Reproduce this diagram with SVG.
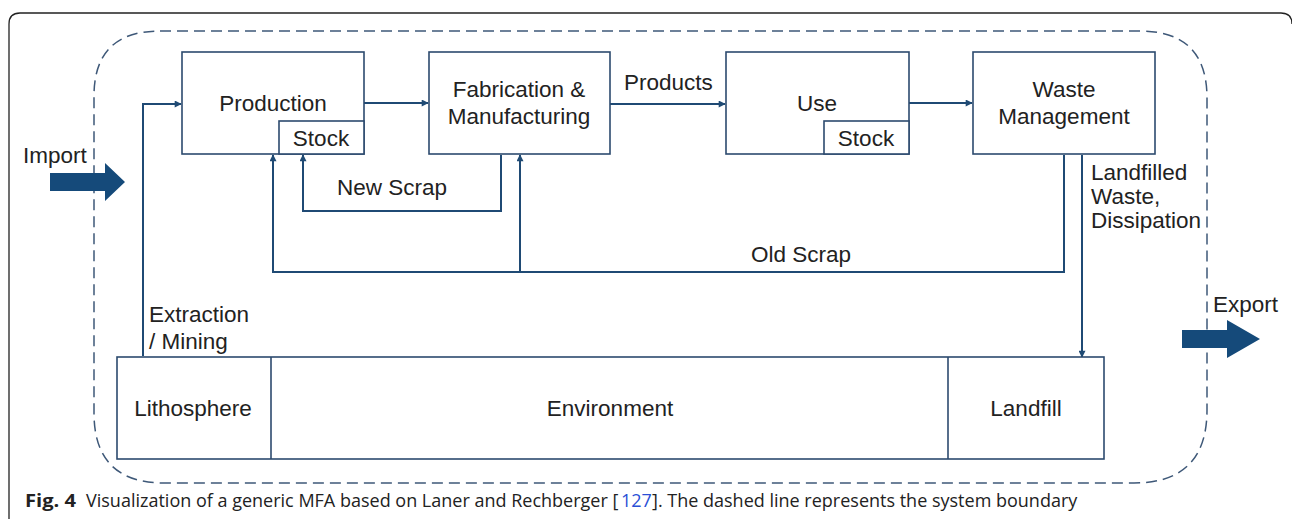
<svg xmlns="http://www.w3.org/2000/svg" width="1292" height="519" viewBox="0 0 1292 519">
<defs>
<style>
.box{fill:#fff;stroke:#2c4a6e;stroke-width:1.6}
.t{font-family:"Liberation Sans",Arial,sans-serif;font-size:22.5px;fill:#222}
.m{text-anchor:middle}
.c{fill:none;stroke:#1f4a74;stroke-width:2}
.big{fill:#154a7a}
.cap{font-family:"Open Sans","Noto Sans",sans-serif;font-size:18px;fill:#222}
</style>
<marker id="ah" viewBox="0 0 10 10" refX="9" refY="5" markerWidth="8" markerHeight="7" orient="auto" markerUnits="userSpaceOnUse">
<path d="M0,0 L10,5 L0,10 z" fill="#1f4a74"/>
</marker>
</defs>
<rect width="1292" height="519" fill="#fff"/>
<path d="M9,519 V24 Q9,13 20,13 H1281 Q1292,13 1292,24" fill="none" stroke="#222" stroke-width="1.3"/>
<path d="M160,31 H1140 Q1207,31 1207,98 V410 Q1207,483 1134,483 H164 Q94,483 94,413 V96 Q94,31 160,31 Z" fill="none" stroke="#3e5878" stroke-width="1.5" stroke-dasharray="11,6"/>

<g id="connectors">
<path class="c" d="M143,356 V104 H181" marker-end="url(#ah)"/>
<path class="c" d="M364,103 H428" marker-end="url(#ah)"/>
<path class="c" d="M610,104 H725" marker-end="url(#ah)"/>
<path class="c" d="M909,103 H972" marker-end="url(#ah)"/>
<path class="c" d="M501,155 V211 H303 V155" marker-end="url(#ah)"/>
<path class="c" d="M1064,155 V272 H273 V155" marker-end="url(#ah)"/>
<path class="c" d="M520,272 V155" marker-end="url(#ah)"/>
<path class="c" d="M1082,155 V357" marker-end="url(#ah)"/>
</g>

<g id="import">
<path class="big" d="M50,173 H105 V163 L125,182 L105,201 V191 H50 Z"/>
<text class="t" x="23" y="163">Import</text>
</g>
<g id="export">
<path class="big" d="M1182,330 H1227 V320 L1260,339 L1227,358 V348 H1182 Z"/>
<text class="t" x="1213" y="312">Export</text>
</g>

<g id="production">
<rect class="box" x="182" y="52" width="182" height="102"/>
<rect class="box" x="279" y="121" width="85" height="33"/>
<text class="t m" x="273" y="111">Production</text>
<text class="t m" x="321" y="146">Stock</text>
</g>
<g id="fabrication">
<rect class="box" x="429" y="52" width="181" height="102"/>
<text class="t m" x="519" y="97">Fabrication &amp;</text>
<text class="t m" x="519" y="124">Manufacturing</text>
</g>
<g id="use">
<rect class="box" x="726" y="52" width="183" height="102"/>
<rect class="box" x="824" y="121" width="85" height="33"/>
<text class="t m" x="817" y="111">Use</text>
<text class="t m" x="866" y="146">Stock</text>
</g>
<g id="waste">
<rect class="box" x="973" y="52" width="182" height="102"/>
<text class="t m" x="1064" y="97">Waste</text>
<text class="t m" x="1064" y="124">Management</text>
</g>
<g id="bottom">
<rect class="box" x="117" y="357" width="987" height="102"/>
<line class="box" x1="271" y1="357" x2="271" y2="459"/>
<line class="box" x1="948" y1="357" x2="948" y2="459"/>
<text class="t m" x="193" y="416">Lithosphere</text>
<text class="t m" x="610" y="416">Environment</text>
<text class="t m" x="1026" y="416">Landfill</text>
</g>

<g id="labels">
<text class="t" x="624" y="90">Products</text>
<text class="t" x="337" y="195">New Scrap</text>
<text class="t" x="751" y="262">Old Scrap</text>
<text class="t" x="1091" y="180">Landfilled</text>
<text class="t" x="1091" y="204">Waste,</text>
<text class="t" x="1091" y="228">Dissipation</text>
<text class="t" x="149" y="322">Extraction</text>
<text class="t" x="149" y="349">/ Mining</text>
</g>

<text class="cap" x="25" y="507" font-size="20" font-weight="bold" textLength="51" lengthAdjust="spacingAndGlyphs">Fig. 4</text>
<text class="cap" x="86" y="507">Visualization of a generic MFA based on Laner and Rechberger [</text>
<text class="cap" x="621" y="507" style="fill:#2a4fd6">127</text>
<text class="cap" x="652" y="507">]. The dashed line represents the system boundary</text>
</svg>
